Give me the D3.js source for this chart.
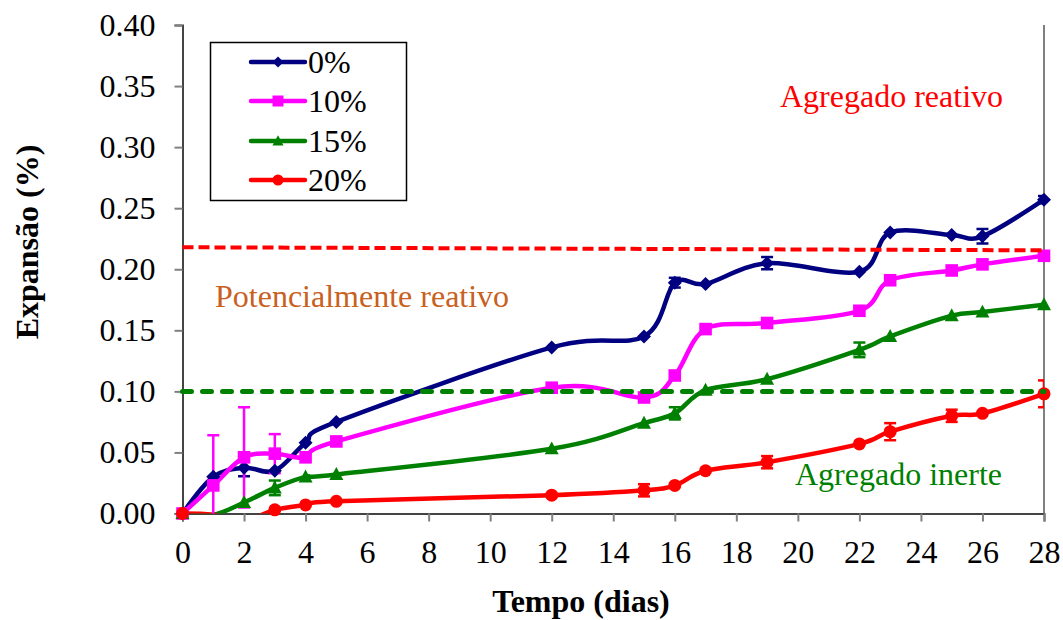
<!DOCTYPE html>
<html><head><meta charset="utf-8">
<script src="https://cdn.jsdelivr.net/npm/d3@7"></script>
</head><body style="margin:0;background:#fff">
<svg id="c" width="1063" height="620"></svg>
<script>
// ---- data ----
const days = [0,1,2,3,4,5,12,15,16,17,19,22,23,25,26,28];
const seriesNames = ["0%","10%","15%","20%"];
const exp0  = [0,0.030,0.0375,0.035,0.058,0.075,0.136,0.145,0.189,0.188,0.205,0.198,0.230,0.228,0.227,0.257];
const err0  = [0,0,0.007,0,0,0,0,0,0.004,0,0.005,0,0,0,0.006,0.003];
const exp10 = [0,0.023,0.046,0.049,0.046,0.059,0.103,0.095,0.113,0.151,0.156,0.166,0.191,0.199,0.204,0.211];
const err10 = [0,0.041,0.041,0.016,0,0,0,0,0,0,0,0,0,0,0,0];
const exp15 = [0,-0.001,0.009,0.021,0.030,0.032,0.053,0.074,0.082,0.101,0.110,0.134,0.145,0.162,0.165,0.171];
const err15 = [0,0,0,0.006,0,0,0,0,0.005,0,0,0.006,0,0,0,0];
const exp20 = [0,-0.001,-0.006,0.003,0.007,0.010,0.015,0.019,0.023,0.035,0.042,0.057,0.067,0.080,0.082,0.098];
const err20 = [0,0,0,0,0,0,0,0.005,0,0,0.005,0,0.007,0.005,0,0.011];
const xTicks = [0,2,4,6,8,10,12,14,16,18,20,22,24,26,28];
const yTicks = [0,0.05,0.10,0.15,0.20,0.25,0.30,0.35,0.40];
const reactiveLimit = [0.218, 0.2155];   // at first and last day
const inertLimit = [0.100, 0.100];
const limitDays = [0, 28];
const annotations = ["Agregado reativo","Potencialmente reativo","Agregado inerte"];
const xTitle = "Tempo (dias)";
const yTitle = "Expansão (%)";

// ---- styles ----
const FONT = '"Liberation Serif"';
const colors = ["#000080","#FF00FF","#008000","#FF0000"];
// custom marker shapes, size = half extent in px
const shapes = [
  {draw(c,r){c.moveTo(0,-r);c.lineTo(r,0);c.lineTo(0,r);c.lineTo(-r,0);c.closePath();}},
  {draw(c,r){c.rect(-r,-r,2*r,2*r);}},
  {draw(c,r){c.moveTo(0,-r*1.05);c.lineTo(r,r*0.8);c.lineTo(-r,r*0.8);c.closePath();}},
  {draw(c,r){c.moveTo(r,0);c.arc(0,0,r,0,2*Math.PI);}}
];
const markR = [7, 6.3, 7, 6.5];
const legR  = [5.5, 5.5, 5.5, 5.5];
const values = [exp0, exp10, exp15, exp20];
const errors = [err0, err10, err15, err20];

const svg = d3.select("#c");
const L = 182.5, R = 1044, T = 25, B = 513.5;
const x = d3.scaleLinear().domain([0,28]).range([L,R]);
const y = d3.scaleLinear().domain([0,0.40]).range([B,T]);

svg.append("defs").append("clipPath").attr("id","clip")
  .append("rect").attr("x",L).attr("y",T).attr("width",R-L).attr("height",B-T);

// right border line
svg.append("line").attr("x1",R).attr("x2",R).attr("y1",T).attr("y2",B)
  .attr("stroke","#808080").attr("stroke-width",2);

// axes
const yAxis = svg.append("g").attr("transform",`translate(${L},0)`)
  .call(d3.axisLeft(y).tickValues(yTicks).tickFormat(d3.format(".2f")).tickSize(8).tickPadding(19));
const xAxis = svg.append("g").attr("transform",`translate(0,${B})`)
  .call(d3.axisBottom(x).tickValues(xTicks).tickFormat(d3.format("d")).tickSize(8).tickPadding(19));
[yAxis,xAxis].forEach(a=>{
  a.attr("font-family",null).style("font-family",FONT);
  a.select(".domain").attr("stroke","#444").attr("stroke-width",2);
  a.selectAll(".tick line").attr("stroke","#808080").attr("stroke-width",2);
  a.selectAll(".tick text").attr("font-size",32).attr("fill","#000").style("font-family",FONT);
});

function txt(xp, yp, s, size, color, bold){
  const t = svg.append("text").attr("x",xp).attr("y",yp).attr("font-size",size)
    .attr("fill",color).style("font-family",FONT).text(s);
  if(bold) t.attr("font-weight","bold");
  return t;
}

// axis titles
txt(581, 612, xTitle, 32, "#000", true).attr("text-anchor","middle");
txt(0, 0, yTitle, 32, "#000", true).attr("text-anchor","middle")
  .attr("transform","translate(38,242) rotate(-90)");

// series
const line = d3.line().x((d,i)=>x(days[i])).y(d=>y(d)).curve(d3.curveCardinal.tension(0));
const clipG = svg.append("g").attr("clip-path","url(#clip)");
values.forEach((vals,s)=>{
  clipG.append("path").datum(vals).attr("d",line).attr("fill","none")
    .attr("stroke",colors[s]).attr("stroke-width",4.5).attr("stroke-linejoin","round");
});
values.forEach((vals,s)=>{
  const g = svg.append("g");
  const eg = clipG.append("g");
  vals.forEach((v,i)=>{
    const e = errors[s][i];
    if(!e) return;
    const cx = x(days[i]);
    eg.append("line").attr("x1",cx).attr("x2",cx).attr("y1",y(v-e)).attr("y2",y(v+e))
      .attr("stroke",colors[s]).attr("stroke-width",2.5);
    [v-e,v+e].forEach(w=>{
      eg.append("line").attr("x1",cx-6).attr("x2",cx+6).attr("y1",y(w)).attr("y2",y(w))
        .attr("stroke",colors[s]).attr("stroke-width",2.5);
    });
  });
  vals.forEach((v,i)=>{
    if(v<0) return;
    g.append("path").attr("d",d3.symbol(shapes[s],markR[s])())
      .attr("transform",`translate(${x(days[i])},${y(v)})`).attr("fill",colors[s]);
  });
});

// limit lines
const lim = d3.line().x((d,i)=>x(limitDays[i])).y(d=>y(d));
svg.append("path").datum(reactiveLimit).attr("d",lim).attr("fill","none")
  .attr("stroke","#FF0000").attr("stroke-width",4).attr("stroke-dasharray","11,5");
svg.append("path").datum(inertLimit).attr("d",lim).attr("fill","none")
  .attr("stroke","#008000").attr("stroke-width",5).attr("stroke-dasharray","9,11")
  .attr("stroke-linecap","round");

// annotations
txt(780, 107, annotations[0], 32, "#FF0000");
txt(215, 307, annotations[1], 32, "#C8601E");
txt(795, 485, annotations[2], 32, "#008000");

// legend
const lg = svg.append("g");
lg.append("rect").attr("x",210.5).attr("y",42.5).attr("width",196).attr("height",158)
  .attr("fill","#fff").attr("stroke","#000").attr("stroke-width",1.5);
const rowsY = [62,101,141,180];
seriesNames.forEach((n,s)=>{
  const ry = rowsY[s];
  lg.append("line").attr("x1",251).attr("x2",305).attr("y1",ry).attr("y2",ry)
    .attr("stroke",colors[s]).attr("stroke-width",4.5).attr("stroke-linecap","round");
  lg.append("path").attr("d",d3.symbol(shapes[s],legR[s])())
    .attr("transform",`translate(278,${ry})`).attr("fill",colors[s]);
  txt(308, ry+11, n, 32, "#000");
});
</script>
</body></html>
